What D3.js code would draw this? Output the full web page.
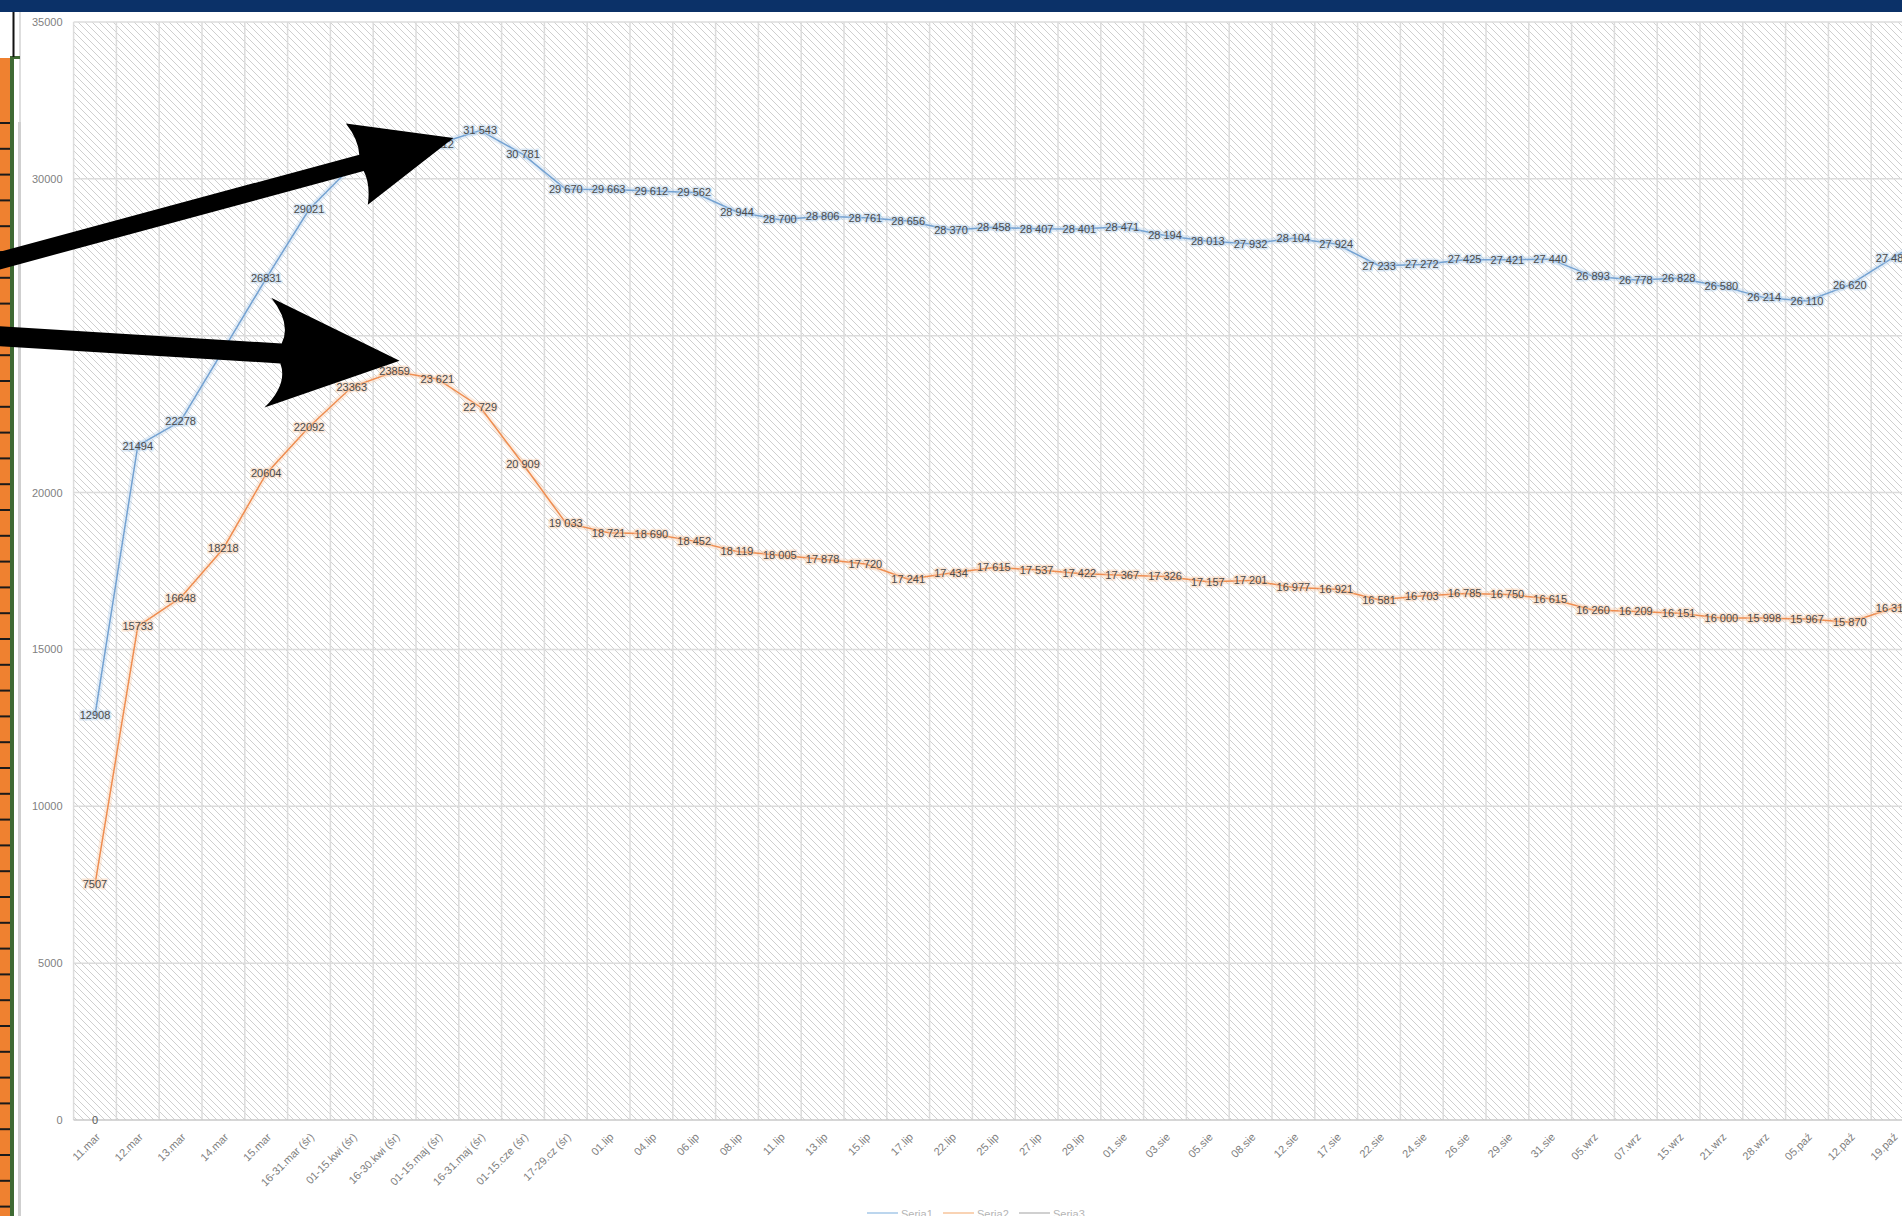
<!DOCTYPE html>
<html>
<head>
<meta charset="utf-8">
<script src="https://cdn.jsdelivr.net/npm/d3@7"></script>
<style>
  body { margin: 0; background: #fff; overflow: hidden; }
  svg { display: block; font-family: "Liberation Sans", Arial, sans-serif; }
</style>
</head>
<body>
<svg id="chart"></svg>
<script>
const width = 1902;
const height = 1216;

// categories (the last one is only partly in frame)
const categories = [
  '11.mar', '12.mar', '13.mar', '14.mar', '15.mar',
  '16-31.mar (śr)', '01-15.kwi (śr)', '16-30.kwi (śr)', '01-15.maj (śr)', '16-31.maj (śr)',
  '01-15.cze (śr)', '17-29.cz (śr)',
  '01.lip', '04.lip', '06.lip', '08.lip', '11.lip', '13.lip', '15.lip', '17.lip',
  '22.lip', '25.lip', '27.lip', '29.lip',
  '01.sie', '03.sie', '05.sie', '08.sie', '12.sie', '17.sie', '22.sie', '24.sie',
  '26.sie', '29.sie', '31.sie',
  '05.wrz', '07.wrz', '15.wrz', '21.wrz', '28.wrz',
  '05.paź', '12.paź', '19.paź', '26.paź'
];

const seria1 = [
  12908, 21494, 22278, 24550, 26831, 29021, 30400, 30850, 31112, 31543,
  30781, 29670, 29663, 29612, 29562, 28944, 28700, 28806, 28761, 28656,
  28370, 28458, 28407, 28401, 28471, 28194, 28013, 27932, 28104, 27924,
  27233, 27272, 27425, 27421, 27440, 26893, 26778, 26828, 26580, 26214,
  26110, 26620, 27480, 28300
];

const seria2 = [
  7507, 15733, 16648, 18218, 20604, 22092, 23363, 23859, 23621, 22729,
  20909, 19033, 18721, 18690, 18452, 18119, 18005, 17878, 17720, 17241,
  17434, 17615, 17537, 17422, 17367, 17326, 17157, 17201, 16977, 16921,
  16581, 16703, 16785, 16750, 16615, 16260, 16209, 16151, 16000, 15998,
  15967, 15870, 16312, 16500
];

const seria3 = [0];

const yTicks = [0, 5000, 10000, 15000, 20000, 25000, 30000, 35000];
const seriesNames = ['Seria1', 'Seria2', 'Seria3'];

const plotLeft = 73.6;
const plotTop = 22;
const plotBottom = 1120;
const step = 42.8;

const svg = d3.select('#chart')
  .attr('width', width)
  .attr('height', height);

const x = d3.scaleBand()
  .domain(categories)
  .range([plotLeft, plotLeft + step * categories.length])
  .padding(0);

const y = d3.scaleLinear()
  .domain([0, 35000])
  .range([plotBottom, plotTop]);

const bw = x.bandwidth();
const cx = i => x(categories[i]) + bw / 2;

// hatch pattern of the plot area
const defs = svg.append('defs');
defs.append('pattern')
  .attr('id', 'hatch')
  .attr('patternUnits', 'userSpaceOnUse')
  .attr('width', 7)
  .attr('height', 7)
  .append('path')
  .attr('d', 'M-1,-1L8,8M-1,6L1,8M6,-1L8,1')
  .attr('stroke', '#cfcfcf')
  .attr('stroke-width', 1);

svg.append('rect')
  .attr('x', plotLeft)
  .attr('y', plotTop)
  .attr('width', width - plotLeft)
  .attr('height', plotBottom - plotTop)
  .attr('fill', 'url(#hatch)');

// gridlines
svg.append('g')
  .selectAll('line')
  .data(categories)
  .enter()
  .append('line')
  .attr('x1', d => x(d))
  .attr('x2', d => x(d))
  .attr('y1', plotTop)
  .attr('y2', plotBottom)
  .attr('stroke', '#dcdcdc')
  .attr('stroke-width', 1.5);

svg.append('g')
  .selectAll('line')
  .data(yTicks.filter(d => d > 0))
  .enter()
  .append('line')
  .attr('x1', plotLeft)
  .attr('x2', width)
  .attr('y1', d => y(d))
  .attr('y2', d => y(d))
  .attr('stroke', '#dcdcdc')
  .attr('stroke-width', 1.5);

svg.append('line')
  .attr('x1', plotLeft)
  .attr('x2', width)
  .attr('y1', y(0))
  .attr('y2', y(0))
  .attr('stroke', '#c8c8c8')
  .attr('stroke-width', 1.5);

// y axis
const yAxis = svg.append('g')
  .attr('transform', `translate(${plotLeft},0)`)
  .call(d3.axisLeft(y).tickValues(yTicks).tickSize(0).tickPadding(11).tickFormat(d3.format('d')));
yAxis.select('.domain').remove();
yAxis.selectAll('text')
  .attr('fill', '#7f7f7f')
  .style('font-size', '11px');

// x axis
const xAxis = svg.append('g')
  .attr('transform', `translate(0,${plotBottom})`)
  .call(d3.axisBottom(x).tickSize(0).tickPadding(0));
xAxis.select('.domain').remove();
xAxis.selectAll('text')
  .attr('y', 0)
  .attr('dy', '0.35em')
  .attr('transform', 'translate(3,15) rotate(-45)')
  .style('text-anchor', 'end')
  .style('font-size', '11px')
  .attr('fill', '#808080');

// lines
const line = d3.line()
  .x((d, i) => cx(i))
  .y(d => y(d));

const series = [
  { values: seria1, color: '#74a2d2', glow: '#b3cfeb' },
  { values: seria2, color: '#ef8d50', glow: '#f8cbaa' }
];

series.forEach(s => {
  svg.append('path')
    .datum(s.values)
    .attr('d', line)
    .attr('fill', 'none')
    .attr('stroke', s.glow)
    .attr('stroke-opacity', 0.35)
    .attr('stroke-width', 6);
  svg.append('path')
    .datum(s.values)
    .attr('d', line)
    .attr('fill', 'none')
    .attr('stroke', s.color)
    .attr('stroke-width', 1.5);
});

// data labels
const fmtLabel = (v, i) => i < 8 ? String(v) : d3.format(',')(v).replace(/,/g, ' ');

series.forEach(s => {
  svg.append('g')
    .selectAll('text')
    .data(s.values)
    .enter()
    .append('text')
    .attr('x', (d, i) => cx(i))
    .attr('y', d => y(d))
    .attr('dy', '0.35em')
    .attr('text-anchor', 'middle')
    .style('font-size', '11px')
    .attr('fill', '#4a4a4a')
    .attr('stroke', s.glow)
    .attr('stroke-opacity', 0.45)
    .attr('stroke-width', 3)
    .style('paint-order', 'stroke')
    .text((d, i) => fmtLabel(d, i));
});

svg.append('g')
  .selectAll('text')
  .data(seria3)
  .enter()
  .append('text')
  .attr('x', (d, i) => cx(i))
  .attr('y', d => y(d))
  .attr('dy', '0.35em')
  .attr('text-anchor', 'middle')
  .style('font-size', '11px')
  .attr('fill', '#595959')
  .text(d => d);

// legend (cut by the bottom edge)
const legendColors = ['#bcd6ee', '#f9d3b4', '#d0d0d0'];
const legend = svg.append('g').attr('transform', 'translate(867,1213)');
seriesNames.forEach((name, i) => {
  const gItem = legend.append('g').attr('transform', `translate(${i * 76},0)`);
  gItem.append('line')
    .attr('x1', 0).attr('x2', 31)
    .attr('y1', 0).attr('y2', 0)
    .attr('stroke', legendColors[i])
    .attr('stroke-width', 2);
  gItem.append('text')
    .attr('x', 34)
    .attr('y', 5)
    .style('font-size', '11px')
    .attr('fill', '#b5b5b5')
    .text(name);
});

// spreadsheet bits on the left
svg.append('rect').attr('x', 0).attr('y', 0).attr('width', 22).attr('height', height).attr('fill', '#fff');
svg.append('rect').attr('x', 19).attr('y', 12).attr('width', 2).attr('height', height).attr('fill', '#dedede');
svg.append('rect').attr('x', 18).attr('y', 122).attr('width', 3).attr('height', height).attr('fill', '#cfcfcf');
svg.append('rect').attr('x', 0).attr('y', 58).attr('width', 10).attr('height', height).attr('fill', '#ef8130');
svg.append('rect').attr('x', 10).attr('y', 56).attr('width', 4).attr('height', height).attr('fill', '#3f6a33');
svg.append('rect').attr('x', 10).attr('y', 56).attr('width', 10).attr('height', 3).attr('fill', '#3f6a33');
svg.append('rect').attr('x', 12.5).attr('y', 12).attr('width', 2).attr('height', 45).attr('fill', '#111');

const rowTicks = d3.range(123, height, 25.8);
svg.append('g')
  .selectAll('line')
  .data(rowTicks)
  .enter()
  .append('line')
  .attr('x1', 0).attr('x2', 10)
  .attr('y1', d => d).attr('y2', d => d)
  .attr('stroke', '#1a1a1a')
  .attr('stroke-width', 2);

// top bar
svg.append('rect')
  .attr('x', 0).attr('y', 0)
  .attr('width', width).attr('height', 12)
  .attr('fill', '#0b3168');

// arrows
function arrowPath(t0, t1, sw, hl, hw, cc) {
  const dx = t1[0] - t0[0], dy = t1[1] - t0[1];
  const L = Math.hypot(dx, dy);
  const ux = dx / L, uy = dy / L, nx = -uy, ny = ux;
  const bx = t1[0] - ux * hl, by = t1[1] - uy * hl;
  const p = (a, b) => [bx + ux * a + nx * b, by + uy * a + ny * b];
  const tA = [t0[0] + nx * sw, t0[1] + ny * sw];
  const tB = [t0[0] - nx * sw, t0[1] - ny * sw];
  const j1 = p(cc * 0.6, sw), j2 = p(cc * 0.6, -sw);
  const c1 = p(0, hw), c2 = p(0, -hw);
  const q1 = p(cc, hw * 0.55), q2 = p(cc, -hw * 0.55);
  return `M${tA} L${j1} Q${q1} ${c1} L${t1} L${c2} Q${q2} ${j2} L${tB} Z`;
}

const tip1 = [cx(8) + 16, y(31300)];
const tip2 = [cx(7) + 5, y(24200)];

svg.append('path')
  .attr('d', arrowPath([-20, 266], tip1, 8.5, 100, 42, 8))
  .attr('fill', '#000');

svg.append('path')
  .attr('d', arrowPath([-20, 335], tip2, 10, 132, 55, 22))
  .attr('fill', '#000');
</script>
</body>
</html>
